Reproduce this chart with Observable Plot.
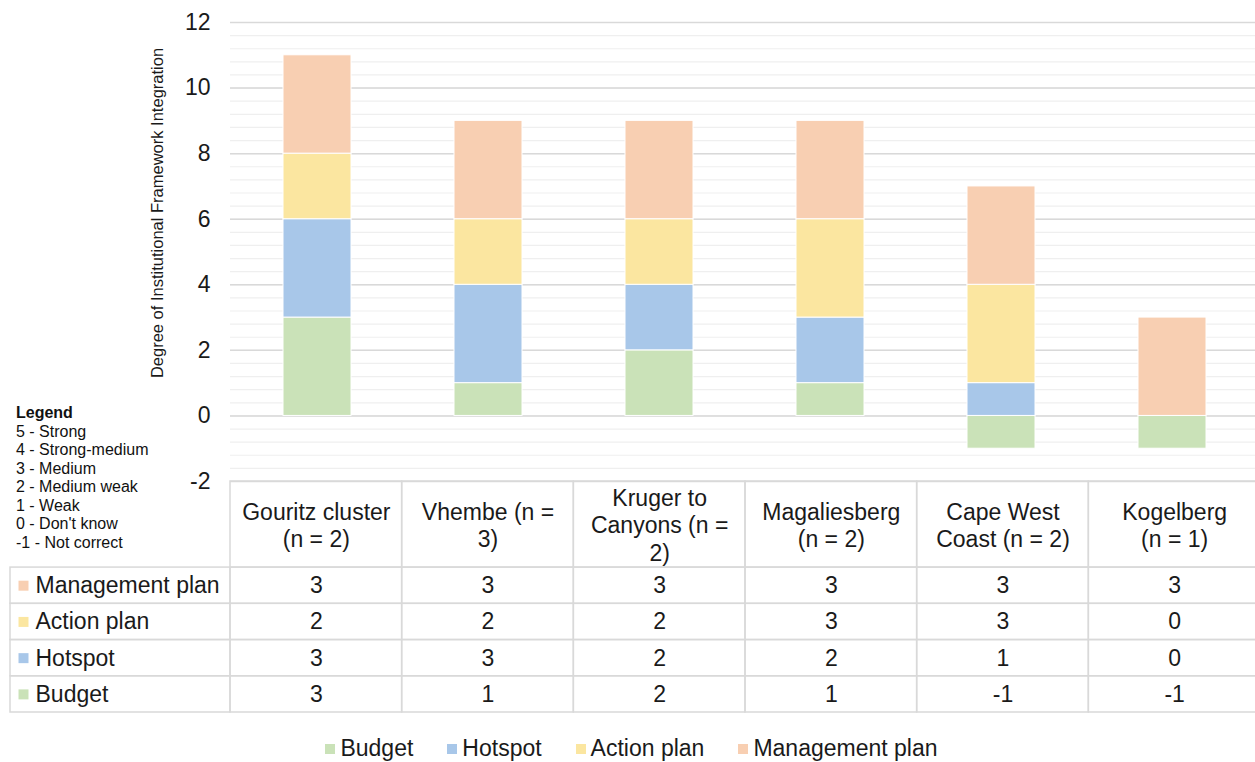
<!DOCTYPE html>
<html><head><meta charset="utf-8">
<script src="https://cdn.jsdelivr.net/npm/d3@7"></script>
<script src="https://cdn.jsdelivr.net/npm/@observablehq/plot@0.6"></script>
<style>
html,body{margin:0;padding:0;background:#fff;overflow:hidden;width:1255px;height:762px;}
body{position:relative;font-family:"Liberation Sans",Arial,sans-serif;}
#chart{position:absolute;left:0;top:0;width:1260px;}
#table{position:absolute;left:0;top:479px;width:1260px;}
#chart svg,#table svg{max-width:none !important;display:block;}
#key{position:absolute;left:16px;top:404px;font-size:16px;line-height:18.5px;color:#111;white-space:nowrap;}
#key b{font-weight:bold;}
#legend{position:absolute;left:0;top:732px;width:1255px;}
.lg-swatches{justify-content:center !important;padding-left:8px;}
.lg-swatch{margin:0 17px !important;}
.lg-swatch > svg{margin-right:5px !important;}
</style></head><body>
<div id="chart"></div><div id="table"></div><div id="key"></div><div id="legend"></div>
<script>
// ---- data ----
const categories = ["Gouritz cluster (n = 2)", "Vhembe (n = 3)", "Kruger to Canyons (n = 2)", "Magaliesberg (n = 2)", "Cape West Coast (n = 2)", "Kogelberg (n = 1)"];
const headerLabels = ["Gouritz cluster\n(n = 2)", "Vhembe (n =\n3)", "Kruger to\nCanyons (n =\n2)", "Magaliesberg\n(n = 2)", "Cape West\nCoast (n = 2)", "Kogelberg\n(n = 1)"];
const series = ["Budget", "Hotspot", "Action plan", "Management plan"];
const budget = [3, 1, 2, 1, -1, -1];
const hotspot = [3, 3, 2, 2, 1, 0];
const actionPlan = [2, 2, 2, 3, 3, 0];
const managementPlan = [3, 3, 3, 3, 3, 3];
const colors = ["#cae2b8", "#a8c7e9", "#fbe6a0", "#f8cfb2"];
const yTicks = [-2, 0, 2, 4, 6, 8, 10, 12];
const yTitle = "Degree of Institutional Framework Integration";
const keyTitle = "Legend";
const keyLines = ["5 - Strong", "4 - Strong-medium", "3 - Medium", "2 - Medium weak", "1 - Weak", "0 - Don't know", "-1 - Not correct"];

const FONT = '"Liberation Sans", Arial, sans-serif';
const values = [budget, hotspot, actionPlan, managementPlan];
const data = series.flatMap((s, si) => categories.map((c, ci) => ({category: c, ci, series: s, value: values[si][ci]})));
const rowOrder = series.slice().reverse();

// ---- chart ----
const W = 1260, left = 230;
const minorTicks = d3.range(36).map(i => -2 + i * 0.4);
const chart = Plot.plot({
  width: W, height: 481, marginTop: 22, marginBottom: 0, marginLeft: left, marginRight: 0,
  style: {fontFamily: FONT, fontSize: "23px", color: "#1a1a1a", background: "transparent", overflow: "visible"},
  x: {domain: categories, paddingInner: 0.6, paddingOuter: 0.3, axis: null},
  y: {domain: [-2, 12]},
  color: {domain: series, range: colors},
  marks: [
    Plot.ruleY(minorTicks, {stroke: "#efefef", strokeWidth: 1.2}),
    Plot.ruleY(yTicks, {stroke: "#d9d9d9", strokeWidth: 1.5}),
    Plot.barY(data.filter(d => d.value !== 0), {x: "category", y: "value", fill: "series", stroke: "#fff", strokeWidth: 1}),
    Plot.axisY(yTicks, {tickSize: 0, tickPadding: 20, fontSize: 23, tickFormat: d => String(d), label: null}),
    Plot.text([yTitle], {frameAnchor: "left", textAnchor: "middle", dx: -73, dy: -39, rotate: -90, fontSize: 16.5, fill: "#1a1a1a"})
  ]
});
document.getElementById("chart").append(chart);

// ---- data table ----
const step = (W - left) / categories.length;
const tableLeft = 10;
const L = (left - tableLeft) / step;
const headerH = 86 / 36.2;
const cells = [];
categories.forEach((c, i) => cells.push({x1: i, x2: i + 1, y1: 0, y2: headerH}));
rowOrder.forEach((s, r) => {
  cells.push({x1: -L, x2: 0, y1: headerH + r, y2: headerH + r + 1});
  categories.forEach((c, i) => cells.push({x1: i, x2: i + 1, y1: headerH + r, y2: headerH + r + 1}));
});
const tableData = data.map(d => ({...d, row: rowOrder.indexOf(d.series)}));
const table = Plot.plot({
  width: W, height: 235, marginTop: 2, marginBottom: 2, marginLeft: tableLeft, marginRight: 0,
  style: {fontFamily: FONT, fontSize: "23px", color: "#1a1a1a", background: "transparent", overflow: "visible"},
  x: {domain: [-L, categories.length], axis: null},
  y: {domain: [0, headerH + rowOrder.length], reverse: true, axis: null},
  color: {domain: series, range: colors},
  marks: [
    Plot.rect(cells, {x1: "x1", x2: "x2", y1: "y1", y2: "y2", fill: "none", stroke: "#d9d9d9", strokeWidth: 1.5}),
    Plot.text(categories, {x: (d, i) => i + 0.5, y: headerH / 2, text: (d, i) => headerLabels[i], lineAnchor: "middle", lineHeight: 1.2, fontSize: 23}),
    Plot.text(tableData, {x: d => d.ci + 0.5, y: d => headerH + d.row + 0.5, text: d => String(d.value), fontSize: 23}),
    Plot.dot(rowOrder, {x: -L, y: (d, i) => headerH + i + 0.5, dx: 13, symbol: "square", r: 5.64, fill: d => d, stroke: "none"}),
    Plot.text(rowOrder, {x: -L, y: (d, i) => headerH + i + 0.5, dx: 25, textAnchor: "start", fontSize: 23})
  ]
});
document.getElementById("table").append(table);

// ---- left key ----
const key = d3.select("#key");
key.append("div").append("b").text(keyTitle);
keyLines.forEach(t => key.append("div").text(t));

// ---- bottom legend ----
const legend = Plot.legend({
  color: {domain: series, range: colors},
  legend: "swatches", swatchWidth: 10, swatchHeight: 10, className: "lg",
  style: {fontFamily: FONT, fontSize: "23px", color: "#1a1a1a"}
});
document.getElementById("legend").append(legend);
</script>
</body></html>
